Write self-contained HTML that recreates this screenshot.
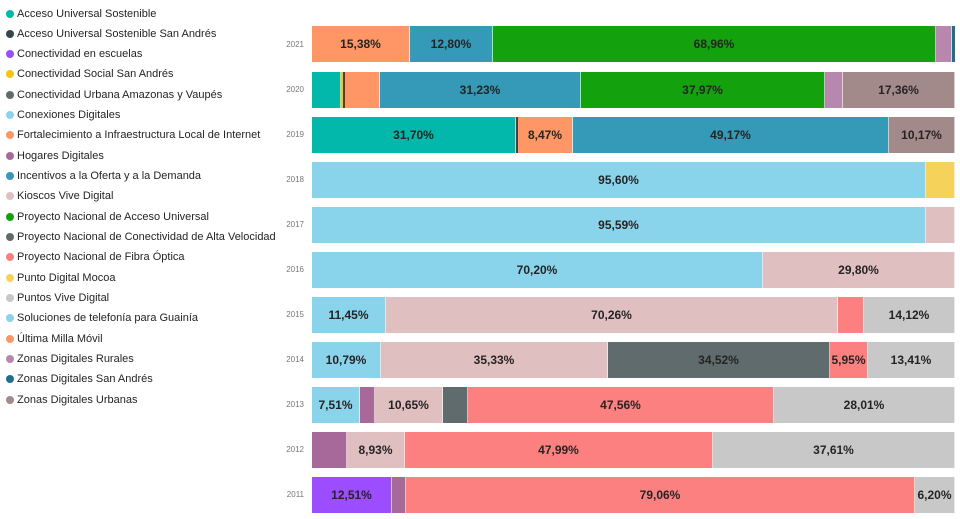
<!DOCTYPE html>
<html><head><meta charset="utf-8"><style>
body{margin:0;width:960px;height:519px;background:#fff;position:relative;overflow:hidden;font-family:"Liberation Sans",sans-serif}
.lg{position:absolute;left:17px;font-size:11px;color:#252423;white-space:nowrap;line-height:12px}
.lg i{position:absolute;left:-11px;top:2px;width:8px;height:8px;border-radius:50%}
.y{position:absolute;left:270px;width:34px;text-align:right;font-size:8px;color:#777}
.r{position:absolute;left:0;height:36px;width:960px}
.s{position:absolute;top:0;height:36px;box-sizing:border-box;border-right:1px solid rgba(255,255,255,.6);font-size:12px;font-weight:bold;color:#252423;display:flex;align-items:center;justify-content:center;overflow:hidden}
</style></head><body>
<div class="lg" style="top:8px"><i style="background:#01B8AA"></i>Acceso Universal Sostenible</div>
<div class="lg" style="top:28px"><i style="background:#374649"></i>Acceso Universal Sostenible San Andrés</div>
<div class="lg" style="top:48px"><i style="background:#9b4dff"></i>Conectividad en escuelas</div>
<div class="lg" style="top:68px"><i style="background:#F2C80F"></i>Conectividad Social San Andrés</div>
<div class="lg" style="top:89px"><i style="background:#5F6B6D"></i>Conectividad Urbana Amazonas y Vaupés</div>
<div class="lg" style="top:109px"><i style="background:#8AD4EB"></i>Conexiones Digitales</div>
<div class="lg" style="top:129px"><i style="background:#FE9666"></i>Fortalecimiento a Infraestructura Local de Internet</div>
<div class="lg" style="top:150px"><i style="background:#A66999"></i>Hogares Digitales</div>
<div class="lg" style="top:170px"><i style="background:#3599B8"></i>Incentivos a la Oferta y a la Demanda</div>
<div class="lg" style="top:190px"><i style="background:#DFBFBF"></i>Kioscos Vive Digital</div>
<div class="lg" style="top:211px"><i style="background:#13A10E"></i>Proyecto Nacional de Acceso Universal</div>
<div class="lg" style="top:231px"><i style="background:#5F6B6D"></i>Proyecto Nacional de Conectividad de Alta Velocidad</div>
<div class="lg" style="top:251px"><i style="background:#FD8080"></i>Proyecto Nacional de Fibra Óptica</div>
<div class="lg" style="top:272px"><i style="background:#F5D35A"></i>Punto Digital Mocoa</div>
<div class="lg" style="top:292px"><i style="background:#C8C8C8"></i>Puntos Vive Digital</div>
<div class="lg" style="top:312px"><i style="background:#8AD4EB"></i>Soluciones de telefonía para Guainía</div>
<div class="lg" style="top:333px"><i style="background:#FE9666"></i>Última Milla Móvil</div>
<div class="lg" style="top:353px"><i style="background:#B887AD"></i>Zonas Digitales Rurales</div>
<div class="lg" style="top:373px"><i style="background:#1F6E8C"></i>Zonas Digitales San Andrés</div>
<div class="lg" style="top:394px"><i style="background:#A38A8A"></i>Zonas Digitales Urbanas</div>

<div class="y" style="top:40px">2021</div>
<div class="y" style="top:85px">2020</div>
<div class="y" style="top:130px">2019</div>
<div class="y" style="top:175px">2018</div>
<div class="y" style="top:220px">2017</div>
<div class="y" style="top:265px">2016</div>
<div class="y" style="top:310px">2015</div>
<div class="y" style="top:355px">2014</div>
<div class="y" style="top:400px">2013</div>
<div class="y" style="top:445px">2012</div>
<div class="y" style="top:490px">2011</div>

<div class="r" style="top:26px">
<div class="s" style="left:312px;width:98px;background:#FE9666">15,38%</div>
<div class="s" style="left:410px;width:83px;background:#3599B8">12,80%</div>
<div class="s" style="left:493px;width:443px;background:#13A10E">68,96%</div>
<div class="s" style="left:936px;width:16px;background:#B887AD"></div>
<div class="s" style="left:952px;width:3px;background:#1F6E8C;border:0"></div>
</div>
<div class="r" style="top:72px">
<div class="s" style="left:312px;width:29px;background:#01B8AA"></div>
<div class="s" style="left:341px;width:2px;background:#F2C80F;border:0"></div>
<div class="s" style="left:343px;width:2px;background:#374649;border:0"></div>
<div class="s" style="left:345px;width:35px;background:#FE9666"></div>
<div class="s" style="left:380px;width:201px;background:#3599B8">31,23%</div>
<div class="s" style="left:581px;width:244px;background:#13A10E">37,97%</div>
<div class="s" style="left:825px;width:18px;background:#B887AD"></div>
<div class="s" style="left:843px;width:112px;background:#A38A8A">17,36%</div>
</div>
<div class="r" style="top:117px">
<div class="s" style="left:312px;width:204px;background:#01B8AA">31,70%</div>
<div class="s" style="left:516px;width:2px;background:#374649;border:0"></div>
<div class="s" style="left:518px;width:55px;background:#FE9666">8,47%</div>
<div class="s" style="left:573px;width:316px;background:#3599B8">49,17%</div>
<div class="s" style="left:889px;width:66px;background:#A38A8A">10,17%</div>
</div>
<div class="r" style="top:162px">
<div class="s" style="left:312px;width:614px;background:#8AD4EB">95,60%</div>
<div class="s" style="left:926px;width:29px;background:#F5D35A"></div>
</div>
<div class="r" style="top:207px">
<div class="s" style="left:312px;width:614px;background:#8AD4EB">95,59%</div>
<div class="s" style="left:926px;width:29px;background:#DFBFBF"></div>
</div>
<div class="r" style="top:252px">
<div class="s" style="left:312px;width:451px;background:#8AD4EB">70,20%</div>
<div class="s" style="left:763px;width:192px;background:#DFBFBF">29,80%</div>
</div>
<div class="r" style="top:297px">
<div class="s" style="left:312px;width:74px;background:#8AD4EB">11,45%</div>
<div class="s" style="left:386px;width:452px;background:#DFBFBF">70,26%</div>
<div class="s" style="left:838px;width:26px;background:#FD8080"></div>
<div class="s" style="left:864px;width:91px;background:#C8C8C8">14,12%</div>
</div>
<div class="r" style="top:342px">
<div class="s" style="left:312px;width:69px;background:#8AD4EB">10,79%</div>
<div class="s" style="left:381px;width:227px;background:#DFBFBF">35,33%</div>
<div class="s" style="left:608px;width:222px;background:#5F6B6D">34,52%</div>
<div class="s" style="left:830px;width:38px;background:#FD8080">5,95%</div>
<div class="s" style="left:868px;width:87px;background:#C8C8C8">13,41%</div>
</div>
<div class="r" style="top:387px">
<div class="s" style="left:312px;width:48px;background:#8AD4EB">7,51%</div>
<div class="s" style="left:360px;width:15px;background:#A66999"></div>
<div class="s" style="left:375px;width:68px;background:#DFBFBF">10,65%</div>
<div class="s" style="left:443px;width:25px;background:#5F6B6D"></div>
<div class="s" style="left:468px;width:306px;background:#FD8080">47,56%</div>
<div class="s" style="left:774px;width:181px;background:#C8C8C8">28,01%</div>
</div>
<div class="r" style="top:432px">
<div class="s" style="left:312px;width:35px;background:#A66999"></div>
<div class="s" style="left:347px;width:58px;background:#DFBFBF">8,93%</div>
<div class="s" style="left:405px;width:308px;background:#FD8080">47,99%</div>
<div class="s" style="left:713px;width:242px;background:#C8C8C8">37,61%</div>
</div>
<div class="r" style="top:477px">
<div class="s" style="left:312px;width:80px;background:#9B4DFF">12,51%</div>
<div class="s" style="left:392px;width:14px;background:#A66999"></div>
<div class="s" style="left:406px;width:509px;background:#FD8080">79,06%</div>
<div class="s" style="left:915px;width:40px;background:#C8C8C8">6,20%</div>
</div>
</body></html>
